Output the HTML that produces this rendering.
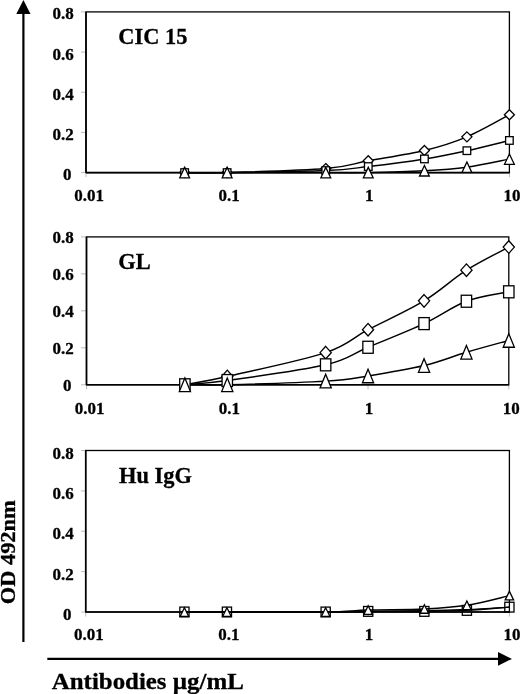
<!DOCTYPE html>
<html><head><meta charset="utf-8"><style>
html,body{margin:0;padding:0;background:#fff;}
body{width:520px;height:694px;overflow:hidden;}
svg{display:block;filter:grayscale(1);}
text{font-family:"Liberation Serif", serif;font-weight:bold;fill:#000;stroke:#000;stroke-width:0.3px;}
</style></head><body>
<svg width="520" height="694" viewBox="0 0 520 694">
<rect width="520" height="694" fill="#fff"/>
<line x1="81.00" y1="11.90" x2="86.00" y2="11.90" stroke="#bbb" stroke-width="1.0"/>
<line x1="81.00" y1="52.07" x2="86.00" y2="52.07" stroke="#bbb" stroke-width="1.0"/>
<line x1="81.00" y1="92.25" x2="86.00" y2="92.25" stroke="#bbb" stroke-width="1.0"/>
<line x1="81.00" y1="132.42" x2="86.00" y2="132.42" stroke="#bbb" stroke-width="1.0"/>
<line x1="81.00" y1="172.60" x2="86.00" y2="172.60" stroke="#bbb" stroke-width="1.0"/>
<line x1="86.00" y1="172.60" x2="86.00" y2="177.10" stroke="#bbb" stroke-width="1.0"/>
<line x1="227.13" y1="172.60" x2="227.13" y2="177.10" stroke="#bbb" stroke-width="1.0"/>
<line x1="368.27" y1="172.60" x2="368.27" y2="177.10" stroke="#bbb" stroke-width="1.0"/>
<line x1="509.40" y1="172.60" x2="509.40" y2="177.10" stroke="#bbb" stroke-width="1.0"/>
<rect x="86.00" y="11.90" width="423.40" height="160.70" fill="none" stroke="#000" stroke-width="1.3"/>
<line x1="86.00" y1="172.60" x2="509.40" y2="172.60" stroke="#000" stroke-width="1.6"/>
<line x1="86.00" y1="11.90" x2="86.00" y2="172.60" stroke="#000" stroke-width="1.6"/>
<text transform="translate(73.80,19.40) scale(1,1.04)" font-size="17" text-anchor="end">0.8</text>
<text transform="translate(73.80,59.57) scale(1,1.04)" font-size="17" text-anchor="end">0.6</text>
<text transform="translate(73.80,99.75) scale(1,1.04)" font-size="17" text-anchor="end">0.4</text>
<text transform="translate(73.80,139.92) scale(1,1.04)" font-size="17" text-anchor="end">0.2</text>
<text transform="translate(71.40,180.10) scale(1,1.04)" font-size="17" text-anchor="end">0</text>
<text transform="translate(89.20,201.10) scale(1,1.03)" font-size="17" text-anchor="middle">0.01</text>
<text transform="translate(229.13,201.10) scale(1,1.03)" font-size="17" text-anchor="middle">0.1</text>
<text transform="translate(369.17,201.10) scale(1,1.03)" font-size="17" text-anchor="middle">1</text>
<text transform="translate(511.90,201.10) scale(1,1.03)" font-size="17" text-anchor="middle">10</text>
<text transform="translate(118.30,44.10) scale(1,1.0)" font-size="22.4">CIC 15</text>
<path d="M184.65,172.60 C191.73,172.60 203.61,173.27 227.13,172.60 C250.66,171.93 302.26,170.56 325.78,168.58 C349.30,166.61 351.83,163.76 368.27,160.75 C384.71,157.74 407.99,154.49 424.43,150.50 C440.87,146.52 452.75,142.80 466.91,136.84 C481.08,130.88 502.32,118.43 509.40,114.75" fill="none" stroke="#000" stroke-width="1.45" stroke-linejoin="round"/>
<path d="M184.65,172.60 C191.73,172.60 203.61,172.93 227.13,172.60 C250.66,172.27 302.26,171.60 325.78,170.59 C349.30,169.59 351.83,168.52 368.27,166.57 C384.71,164.63 407.99,161.59 424.43,158.94 C440.87,156.30 452.75,153.78 466.91,150.70 C481.08,147.62 502.32,142.17 509.40,140.46" fill="none" stroke="#000" stroke-width="1.45" stroke-linejoin="round"/>
<path d="M184.65,172.60 C191.73,172.60 203.61,172.60 227.13,172.60 C250.66,172.60 302.26,172.60 325.78,172.60 C349.30,172.60 351.83,172.90 368.27,172.60 C384.71,172.30 407.99,171.70 424.43,170.79 C440.87,169.89 452.75,169.12 466.91,167.18 C481.08,165.23 502.32,160.48 509.40,159.14" fill="none" stroke="#000" stroke-width="1.45" stroke-linejoin="round"/>
<polygon points="184.65,167.60 189.65,172.60 184.65,177.60 179.65,172.60" fill="#fff" stroke="#000" stroke-width="1.3"/>
<polygon points="227.13,167.60 232.13,172.60 227.13,177.60 222.13,172.60" fill="#fff" stroke="#000" stroke-width="1.3"/>
<polygon points="325.78,163.58 330.78,168.58 325.78,173.58 320.78,168.58" fill="#fff" stroke="#000" stroke-width="1.3"/>
<polygon points="368.27,155.75 373.27,160.75 368.27,165.75 363.27,160.75" fill="#fff" stroke="#000" stroke-width="1.3"/>
<polygon points="424.43,145.50 429.43,150.50 424.43,155.50 419.43,150.50" fill="#fff" stroke="#000" stroke-width="1.3"/>
<polygon points="466.91,131.84 471.91,136.84 466.91,141.84 461.91,136.84" fill="#fff" stroke="#000" stroke-width="1.3"/>
<polygon points="509.40,109.75 514.40,114.75 509.40,119.75 504.40,114.75" fill="#fff" stroke="#000" stroke-width="1.3"/>
<rect x="180.85" y="168.80" width="7.60" height="7.60" fill="#fff" stroke="#000" stroke-width="1.3"/>
<rect x="223.33" y="168.80" width="7.60" height="7.60" fill="#fff" stroke="#000" stroke-width="1.3"/>
<rect x="321.98" y="166.79" width="7.60" height="7.60" fill="#fff" stroke="#000" stroke-width="1.3"/>
<rect x="364.47" y="162.77" width="7.60" height="7.60" fill="#fff" stroke="#000" stroke-width="1.3"/>
<rect x="420.63" y="155.14" width="7.60" height="7.60" fill="#fff" stroke="#000" stroke-width="1.3"/>
<rect x="463.11" y="146.90" width="7.60" height="7.60" fill="#fff" stroke="#000" stroke-width="1.3"/>
<rect x="505.60" y="136.66" width="7.60" height="7.60" fill="#fff" stroke="#000" stroke-width="1.3"/>
<polygon points="184.65,167.40 189.55,177.80 179.75,177.80" fill="#fff" stroke="#000" stroke-width="1.3"/>
<polygon points="227.13,167.40 232.03,177.80 222.23,177.80" fill="#fff" stroke="#000" stroke-width="1.3"/>
<polygon points="325.78,167.40 330.68,177.80 320.88,177.80" fill="#fff" stroke="#000" stroke-width="1.3"/>
<polygon points="368.27,167.40 373.17,177.80 363.37,177.80" fill="#fff" stroke="#000" stroke-width="1.3"/>
<polygon points="424.43,165.59 429.33,175.99 419.53,175.99" fill="#fff" stroke="#000" stroke-width="1.3"/>
<polygon points="466.91,161.98 471.81,172.38 462.01,172.38" fill="#fff" stroke="#000" stroke-width="1.3"/>
<polygon points="509.40,153.94 514.30,164.34 504.50,164.34" fill="#fff" stroke="#000" stroke-width="1.3"/>
<line x1="81.00" y1="236.90" x2="86.50" y2="236.90" stroke="#bbb" stroke-width="1.0"/>
<line x1="81.00" y1="273.88" x2="86.50" y2="273.88" stroke="#bbb" stroke-width="1.0"/>
<line x1="81.00" y1="310.85" x2="86.50" y2="310.85" stroke="#bbb" stroke-width="1.0"/>
<line x1="81.00" y1="347.83" x2="86.50" y2="347.83" stroke="#bbb" stroke-width="1.0"/>
<line x1="81.00" y1="384.80" x2="86.50" y2="384.80" stroke="#bbb" stroke-width="1.0"/>
<line x1="86.50" y1="384.80" x2="86.50" y2="389.30" stroke="#bbb" stroke-width="1.0"/>
<line x1="227.27" y1="384.80" x2="227.27" y2="389.30" stroke="#bbb" stroke-width="1.0"/>
<line x1="368.03" y1="384.80" x2="368.03" y2="389.30" stroke="#bbb" stroke-width="1.0"/>
<line x1="508.80" y1="384.80" x2="508.80" y2="389.30" stroke="#bbb" stroke-width="1.0"/>
<rect x="86.50" y="236.90" width="422.30" height="147.90" fill="none" stroke="#000" stroke-width="1.3"/>
<line x1="86.50" y1="384.80" x2="508.80" y2="384.80" stroke="#000" stroke-width="1.6"/>
<line x1="86.50" y1="236.90" x2="86.50" y2="384.80" stroke="#000" stroke-width="1.6"/>
<text transform="translate(73.80,243.30) scale(1,1.04)" font-size="17" text-anchor="end">0.8</text>
<text transform="translate(73.80,280.27) scale(1,1.04)" font-size="17" text-anchor="end">0.6</text>
<text transform="translate(73.80,317.25) scale(1,1.04)" font-size="17" text-anchor="end">0.4</text>
<text transform="translate(73.80,354.23) scale(1,1.04)" font-size="17" text-anchor="end">0.2</text>
<text transform="translate(71.40,391.20) scale(1,1.04)" font-size="17" text-anchor="end">0</text>
<text transform="translate(89.70,414.30) scale(1,1.03)" font-size="17" text-anchor="middle">0.01</text>
<text transform="translate(229.27,414.30) scale(1,1.03)" font-size="17" text-anchor="middle">0.1</text>
<text transform="translate(368.93,414.30) scale(1,1.03)" font-size="17" text-anchor="middle">1</text>
<text transform="translate(511.30,414.30) scale(1,1.03)" font-size="17" text-anchor="middle">10</text>
<text transform="translate(118.30,268.80) scale(1,1.0)" font-size="22.4">GL</text>
<path d="M184.89,384.80 C191.95,383.41 203.81,381.84 227.27,376.48 C250.73,371.12 302.20,360.43 325.66,352.63 C349.12,344.84 351.63,338.33 368.03,329.71 C384.43,321.08 407.65,310.79 424.05,300.87 C440.45,290.95 452.30,279.14 466.43,270.18 C480.55,261.21 501.74,250.92 508.80,247.07" fill="none" stroke="#000" stroke-width="1.45" stroke-linejoin="round"/>
<path d="M184.89,384.80 C191.95,384.09 203.81,383.88 227.27,380.55 C250.73,377.22 302.20,370.38 325.66,364.83 C349.12,359.29 351.63,354.14 368.03,347.27 C384.43,340.40 407.65,331.28 424.05,323.61 C440.45,315.93 452.30,306.54 466.43,301.24 C480.55,295.94 501.74,293.38 508.80,291.81" fill="none" stroke="#000" stroke-width="1.45" stroke-linejoin="round"/>
<path d="M184.89,384.80 C191.95,384.80 203.81,385.42 227.27,384.80 C250.73,384.18 302.20,382.58 325.66,381.10 C349.12,379.62 351.63,378.51 368.03,375.93 C384.43,373.34 407.65,369.52 424.05,365.57 C440.45,361.63 452.30,356.45 466.43,352.26 C480.55,348.07 501.74,342.40 508.80,340.43" fill="none" stroke="#000" stroke-width="1.45" stroke-linejoin="round"/>
<polygon points="184.89,378.50 190.49,384.80 184.89,391.10 179.29,384.80" fill="#fff" stroke="#000" stroke-width="1.3"/>
<polygon points="227.27,370.18 232.87,376.48 227.27,382.78 221.67,376.48" fill="#fff" stroke="#000" stroke-width="1.3"/>
<polygon points="325.66,346.33 331.26,352.63 325.66,358.93 320.06,352.63" fill="#fff" stroke="#000" stroke-width="1.3"/>
<polygon points="368.03,323.41 373.63,329.71 368.03,336.01 362.43,329.71" fill="#fff" stroke="#000" stroke-width="1.3"/>
<polygon points="424.05,294.57 429.65,300.87 424.05,307.17 418.45,300.87" fill="#fff" stroke="#000" stroke-width="1.3"/>
<polygon points="466.43,263.88 472.03,270.18 466.43,276.48 460.83,270.18" fill="#fff" stroke="#000" stroke-width="1.3"/>
<polygon points="508.80,240.77 514.40,247.07 508.80,253.37 503.20,247.07" fill="#fff" stroke="#000" stroke-width="1.3"/>
<rect x="179.69" y="378.80" width="10.40" height="12.00" fill="#fff" stroke="#000" stroke-width="1.3"/>
<rect x="222.07" y="374.55" width="10.40" height="12.00" fill="#fff" stroke="#000" stroke-width="1.3"/>
<rect x="320.46" y="358.83" width="10.40" height="12.00" fill="#fff" stroke="#000" stroke-width="1.3"/>
<rect x="362.83" y="341.27" width="10.40" height="12.00" fill="#fff" stroke="#000" stroke-width="1.3"/>
<rect x="418.85" y="317.61" width="10.40" height="12.00" fill="#fff" stroke="#000" stroke-width="1.3"/>
<rect x="461.23" y="295.24" width="10.40" height="12.00" fill="#fff" stroke="#000" stroke-width="1.3"/>
<rect x="503.60" y="285.81" width="10.40" height="12.00" fill="#fff" stroke="#000" stroke-width="1.3"/>
<polygon points="184.89,378.00 190.49,391.60 179.29,391.60" fill="#fff" stroke="#000" stroke-width="1.3"/>
<polygon points="227.27,378.00 232.87,391.60 221.67,391.60" fill="#fff" stroke="#000" stroke-width="1.3"/>
<polygon points="325.66,374.30 331.26,387.90 320.06,387.90" fill="#fff" stroke="#000" stroke-width="1.3"/>
<polygon points="368.03,369.13 373.63,382.73 362.43,382.73" fill="#fff" stroke="#000" stroke-width="1.3"/>
<polygon points="424.05,358.77 429.65,372.37 418.45,372.37" fill="#fff" stroke="#000" stroke-width="1.3"/>
<polygon points="466.43,345.46 472.03,359.06 460.83,359.06" fill="#fff" stroke="#000" stroke-width="1.3"/>
<polygon points="508.80,333.63 514.40,347.23 503.20,347.23" fill="#fff" stroke="#000" stroke-width="1.3"/>
<line x1="81.00" y1="450.50" x2="85.70" y2="450.50" stroke="#bbb" stroke-width="1.0"/>
<line x1="81.00" y1="490.88" x2="85.70" y2="490.88" stroke="#bbb" stroke-width="1.0"/>
<line x1="81.00" y1="531.25" x2="85.70" y2="531.25" stroke="#bbb" stroke-width="1.0"/>
<line x1="81.00" y1="571.62" x2="85.70" y2="571.62" stroke="#bbb" stroke-width="1.0"/>
<line x1="81.00" y1="612.00" x2="85.70" y2="612.00" stroke="#bbb" stroke-width="1.0"/>
<line x1="85.70" y1="612.00" x2="85.70" y2="616.50" stroke="#bbb" stroke-width="1.0"/>
<line x1="226.93" y1="612.00" x2="226.93" y2="616.50" stroke="#bbb" stroke-width="1.0"/>
<line x1="368.17" y1="612.00" x2="368.17" y2="616.50" stroke="#bbb" stroke-width="1.0"/>
<line x1="509.40" y1="612.00" x2="509.40" y2="616.50" stroke="#bbb" stroke-width="1.0"/>
<rect x="85.70" y="450.50" width="423.70" height="161.50" fill="none" stroke="#000" stroke-width="1.3"/>
<line x1="85.70" y1="612.00" x2="509.40" y2="612.00" stroke="#000" stroke-width="1.6"/>
<line x1="85.70" y1="450.50" x2="85.70" y2="612.00" stroke="#000" stroke-width="1.6"/>
<text transform="translate(73.80,458.50) scale(1,1.04)" font-size="17" text-anchor="end">0.8</text>
<text transform="translate(73.80,498.88) scale(1,1.04)" font-size="17" text-anchor="end">0.6</text>
<text transform="translate(73.80,539.25) scale(1,1.04)" font-size="17" text-anchor="end">0.4</text>
<text transform="translate(73.80,579.62) scale(1,1.04)" font-size="17" text-anchor="end">0.2</text>
<text transform="translate(71.40,620.00) scale(1,1.04)" font-size="17" text-anchor="end">0</text>
<text transform="translate(88.90,639.80) scale(1,1.03)" font-size="17" text-anchor="middle">0.01</text>
<text transform="translate(228.93,639.80) scale(1,1.03)" font-size="17" text-anchor="middle">0.1</text>
<text transform="translate(369.07,639.80) scale(1,1.03)" font-size="17" text-anchor="middle">1</text>
<text transform="translate(511.90,639.80) scale(1,1.03)" font-size="17" text-anchor="middle">10</text>
<text transform="translate(119.10,483.20) scale(1,1.0)" font-size="22.4">Hu IgG</text>
<path d="M184.42,612.00 C191.50,612.00 203.39,612.00 226.93,612.00 C250.47,612.00 302.11,612.13 325.65,612.00 C349.19,611.87 351.71,611.39 368.17,611.19 C384.62,610.99 407.92,611.06 424.37,610.79 C440.82,610.52 452.71,610.18 466.88,609.58 C481.06,608.97 502.31,607.56 509.40,607.15" fill="none" stroke="#000" stroke-width="1.45" stroke-linejoin="round"/>
<path d="M184.42,612.00 C191.50,612.00 203.39,612.00 226.93,612.00 C250.47,612.00 302.11,612.10 325.65,612.00 C349.19,611.90 351.71,611.50 368.17,611.39 C384.62,611.29 407.92,611.56 424.37,611.39 C440.82,611.23 452.71,611.09 466.88,610.38 C481.06,609.68 502.31,607.69 509.40,607.15" fill="none" stroke="#000" stroke-width="1.45" stroke-linejoin="round"/>
<path d="M184.42,612.00 C191.50,612.00 203.39,612.00 226.93,612.00 C250.47,612.00 302.11,612.34 325.65,612.00 C349.19,611.66 351.71,610.49 368.17,609.98 C384.62,609.48 407.92,609.75 424.37,608.97 C440.82,608.20 452.71,607.56 466.88,605.34 C481.06,603.12 502.31,597.26 509.40,595.65" fill="none" stroke="#000" stroke-width="1.45" stroke-linejoin="round"/>
<rect x="179.82" y="607.10" width="9.20" height="9.80" fill="none" stroke="#000" stroke-width="1.3"/>
<rect x="222.33" y="607.10" width="9.20" height="9.80" fill="none" stroke="#000" stroke-width="1.3"/>
<rect x="321.05" y="607.10" width="9.20" height="9.80" fill="none" stroke="#000" stroke-width="1.3"/>
<rect x="363.57" y="606.49" width="9.20" height="9.80" fill="none" stroke="#000" stroke-width="1.3"/>
<rect x="419.77" y="606.49" width="9.20" height="9.80" fill="none" stroke="#000" stroke-width="1.3"/>
<rect x="462.28" y="605.49" width="9.20" height="9.80" fill="none" stroke="#000" stroke-width="1.3"/>
<rect x="504.80" y="602.25" width="9.20" height="9.80" fill="none" stroke="#000" stroke-width="1.3"/>
<polygon points="184.42,607.70 188.62,616.30 180.22,616.30" fill="#fff" stroke="#000" stroke-width="1.3"/>
<polygon points="226.93,607.70 231.13,616.30 222.73,616.30" fill="#fff" stroke="#000" stroke-width="1.3"/>
<polygon points="325.65,607.70 329.85,616.30 321.45,616.30" fill="#fff" stroke="#000" stroke-width="1.3"/>
<polygon points="368.17,605.68 372.37,614.28 363.97,614.28" fill="#fff" stroke="#000" stroke-width="1.3"/>
<polygon points="424.37,604.67 428.57,613.27 420.17,613.27" fill="#fff" stroke="#000" stroke-width="1.3"/>
<polygon points="466.88,601.04 471.08,609.64 462.68,609.64" fill="#fff" stroke="#000" stroke-width="1.3"/>
<polygon points="509.40,591.35 513.60,599.95 505.20,599.95" fill="#fff" stroke="#000" stroke-width="1.3"/>
<line x1="23.4" y1="12" x2="23.4" y2="642" stroke="#000" stroke-width="2.2"/>
<polygon points="23.4,0 30.5,14 16.3,14" fill="#000"/>
<line x1="47.3" y1="658.9" x2="500" y2="658.9" stroke="#000" stroke-width="2.1"/>
<polygon points="512.0,658.9 498,652.1 498,665.7" fill="#000"/>
<text x="51.8" y="688.5" font-size="24" textLength="192" lengthAdjust="spacingAndGlyphs">Antibodies µg/mL</text>
<text transform="translate(15.0,604.3) rotate(-90)" x="0" y="0" font-size="20" textLength="104" lengthAdjust="spacingAndGlyphs">OD 492nm</text>
</svg>
</body></html>
